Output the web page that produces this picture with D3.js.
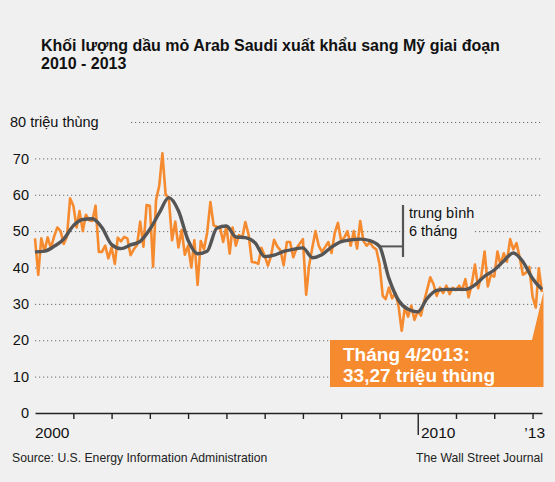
<!DOCTYPE html>
<html>
<head>
<meta charset="utf-8">
<script src="https://cdn.jsdelivr.net/npm/d3@7"></script>
<style>
  body { margin: 0; background: #f0f0f0; }
  svg { display: block; }
  .grid line { stroke: #6a6a6a; stroke-width: 1; stroke-dasharray: 1.2 2.8; }
  .grid path { display: none; }
  .grid text { font-family: "Liberation Sans", Arial, sans-serif; font-size: 14.5px; fill: #111; }
</style>
</head>
<body>
<div id="chart"></div>
<script>
var svgWidth = 555;
var svgHeight = 482;

// monthly Saudi crude exports to the US, million barrels, Jan 2000 .. Apr 2013
var monthlyValues = [
  48, 38, 48, 44.5, 48.3, 45.3, 48.5, 51, 50, 46.5,
  48.5, 59, 57, 51, 55.5, 50, 54.5, 53, 52.8, 57,
  44.3, 44.3, 46, 42.5, 45.5, 41, 48.2, 47.2, 48.4, 48,
  43.4, 45, 46.2, 52.6, 45.7, 57.2, 57, 40.2, 58.5, 62.5,
  71.4, 60, 59.2, 47.5, 52.6, 45.5, 50.3, 43.5, 46, 40,
  47.5, 35.2, 47.3, 45, 49.5, 58, 51.6, 51.2, 51, 47,
  51.4, 43.8, 51, 46, 48.9, 48.2, 52.5, 49, 41.5, 41.4,
  41, 45.4, 43.2, 40.5, 43, 47.6, 45.8, 44.7, 40.6, 47,
  47, 42.8, 45.3, 46.5, 47.8, 32.5, 40.5, 45.5, 50, 46,
  44.3, 45.6, 47, 44, 49.5, 52.3, 47.3, 48.3, 50, 46,
  50, 45.2, 52.8, 47.3, 46, 46.9, 45.6, 45, 41, 32.2,
  31.3, 34.5, 31.5, 33, 29.5, 22.6, 29.2, 26.5, 29.5, 25.6,
  28, 26.8, 30.5, 34, 37.3, 35.4, 32.2, 34.5, 33, 35,
  32.7, 34.4, 33.8, 35, 33.8, 36.8, 31.8, 35.5, 40.8, 34.3,
  38, 44.4, 34.8, 38, 37.5, 44.4, 40.7, 43.9, 41.6, 47.8,
  45, 46.7, 42.6, 38, 38.6, 40.2, 32, 29, 39.8, 33.27
];

// 6-month average, one value per quarter (Jan 2000, Apr 2000, ...)
var averageValues = [
  44.3, 44.5, 45.8, 47.8, 51.5, 53.2, 53.4, 51, 46.3, 45.2,
  46.2, 47.2, 50.5, 55, 59.2, 55.6, 47.5, 43.8, 44.5, 50.8,
  51.4, 48.4, 48.2, 46.8, 43, 43.4, 44.4, 45, 45.4, 42.7,
  43.5, 45.6, 47.1, 47.6, 47.8, 47.4, 45.8, 37, 31, 28.5,
  27.8, 31.5, 33.7, 34, 34, 34, 35.2, 37.6, 39.3, 41.8,
  44, 41.6, 37, 34
];

var yTicks = [0, 10, 20, 30, 40, 50, 60, 70, 80];
var yearTicks = [2001, 2002, 2003, 2004, 2005, 2006, 2007, 2008, 2009, 2010, 2011, 2012, 2013];
var yearLabels = [["2000", 35, "start"], ["2010", 421, "start"], ["\u201913", 545, "end"]];

var titleLines = ["Khối lượng dầu mỏ Arab Saudi xuất khẩu sang Mỹ giai đoạn", "2010 - 2013"];
var calloutLines = ["Tháng 4/2013:", "33,27 triệu thùng"];
var avgNoteLines = ["trung bình", "6 tháng"];

var orange = "#f68a2e";
var greyLine = "#555555";
var baseFont = "'Liberation Sans', Arial, sans-serif";

var monthly = monthlyValues.map(function(v, i) {
  return { date: new Date(2000, i, 1), value: v };
});
var average = averageValues.map(function(v, i) {
  return { date: new Date(2000, i * 3, 1), value: v };
});

var svg = d3.select("#chart")
  .append("svg")
  .attr("width", svgWidth)
  .attr("height", svgHeight);

svg.append("rect")
  .attr("width", svgWidth)
  .attr("height", svgHeight)
  .attr("fill", "#f0f0f0");

// scales
var xScale = d3.scaleTime()
  .domain([new Date(2000, 0, 1), new Date(2013, 3, 1)])
  .range([35, 542]);

var yScale = d3.scaleLinear()
  .domain([0, 80])
  .range([413, 122]);

// title
svg.append("g").selectAll("text")
  .data(titleLines)
  .enter()
  .append("text")
  .attr("x", 41)
  .attr("y", function(d, i) { return 51 + i * 18; })
  .attr("font-family", baseFont)
  .attr("font-weight", "bold")
  .attr("font-size", "16px")
  .attr("fill", "#111")
  .text(function(d) { return d; });

// dotted gridlines + y labels
var grid = svg.append("g")
  .attr("class", "grid")
  .attr("transform", "translate(35,0)")
  .call(d3.axisLeft(yScale)
    .tickValues(yTicks.filter(function(t) { return t > 0; }))
    .tickSize(-508)
    .tickPadding(6)
    .tickFormat(function(d) { return d === 80 ? "" : d; }));

grid.selectAll(".tick")
  .filter(function(d) { return d === 80; })
  .select("line")
  .attr("x1", 96);

svg.append("text")
  .attr("x", 10)
  .attr("y", yScale(80) + 5)
  .attr("font-family", baseFont)
  .attr("font-size", "14.5px")
  .attr("fill", "#111")
  .text("80 triệu thùng");

svg.append("text")
  .attr("x", 29)
  .attr("y", yScale(0) + 5)
  .attr("text-anchor", "end")
  .attr("font-family", baseFont)
  .attr("font-size", "14.5px")
  .attr("fill", "#111")
  .text("0");

// x axis
var xAxis = svg.append("g")
  .attr("transform", "translate(0," + yScale(0) + ")")
  .call(d3.axisBottom(xScale)
    .tickValues(yearTicks.map(function(y) { return new Date(y, 0, 1); }))
    .tickSize(6)
    .tickSizeOuter(0)
    .tickFormat(""));

xAxis.select(".domain")
  .attr("stroke", "#222")
  .attr("stroke-width", 1.6);

xAxis.selectAll(".tick line")
  .attr("stroke", "#222")
  .attr("stroke-width", 1.4)
  .attr("y2", function(d) { return d.getFullYear() === 2010 ? 22 : 6; });

svg.append("g").selectAll("text")
  .data(yearLabels)
  .enter()
  .append("text")
  .attr("x", function(d) { return d[1]; })
  .attr("y", 438)
  .attr("text-anchor", function(d) { return d[2]; })
  .attr("font-family", baseFont)
  .attr("font-size", "15.5px")
  .attr("fill", "#111")
  .text(function(d) { return d[0]; });

// lines
var lineGen = d3.line()
  .x(function(d) { return xScale(d.date); })
  .y(function(d) { return yScale(d.value); });

svg.append("path")
  .datum(monthly)
  .attr("fill", "none")
  .attr("stroke", orange)
  .attr("stroke-width", 2.6)
  .attr("stroke-linejoin", "round")
  .attr("d", lineGen);

svg.append("path")
  .datum(average)
  .attr("fill", "none")
  .attr("stroke", greyLine)
  .attr("stroke-width", 3.4)
  .attr("stroke-linejoin", "round")
  .attr("d", lineGen.curve(d3.curveMonotoneX));

// 6-month average note
var notePoint = average[36];
var noteX = 403;
svg.append("rect")
  .attr("x", noteX + 2)
  .attr("y", 203)
  .attr("width", 70)
  .attr("height", 37)
  .attr("fill", "#f0f0f0");

svg.append("line")
  .attr("x1", xScale(notePoint.date))
  .attr("x2", noteX)
  .attr("y1", yScale(notePoint.value))
  .attr("y2", yScale(notePoint.value))
  .attr("stroke", greyLine)
  .attr("stroke-width", 2);

svg.append("line")
  .attr("x1", noteX)
  .attr("x2", noteX)
  .attr("y1", 205)
  .attr("y2", 257)
  .attr("stroke", greyLine)
  .attr("stroke-width", 2.2);

svg.append("g").selectAll("text")
  .data(avgNoteLines)
  .enter()
  .append("text")
  .attr("x", noteX + 6)
  .attr("y", function(d, i) { return 218 + i * 18; })
  .attr("font-family", baseFont)
  .attr("font-size", "14.5px")
  .attr("fill", "#111")
  .text(function(d) { return d; });

// callout for April 2013
var last = monthly[monthly.length - 1];
var tipX = xScale(last.date);
var tipY = yScale(last.value);

svg.append("path")
  .attr("fill", orange)
  .attr("d", "M" + (tipX - 10) + ",340L" + (tipX + 1.5) + "," + tipY + "L" + (tipX + 1.5) + ",340Z");

svg.append("rect")
  .attr("x", 330)
  .attr("y", 340)
  .attr("width", tipX + 1.5 - 330)
  .attr("height", 47)
  .attr("fill", orange);

svg.append("g").selectAll("text")
  .data(calloutLines)
  .enter()
  .append("text")
  .attr("x", 343)
  .attr("y", function(d, i) { return 361 + i * 20.5; })
  .attr("font-family", baseFont)
  .attr("font-weight", "bold")
  .attr("font-size", "19px")
  .attr("fill", "#fff")
  .text(function(d) { return d; });

// footer
svg.append("text")
  .attr("x", 12)
  .attr("y", 462)
  .attr("font-family", baseFont)
  .attr("font-size", "12.2px")
  .attr("fill", "#222")
  .text("Source: U.S. Energy Information Administration");

svg.append("text")
  .attr("x", 543)
  .attr("y", 462)
  .attr("text-anchor", "end")
  .attr("font-family", baseFont)
  .attr("font-size", "12.2px")
  .attr("fill", "#222")
  .text("The Wall Street Journal");
</script>
</body>
</html>
